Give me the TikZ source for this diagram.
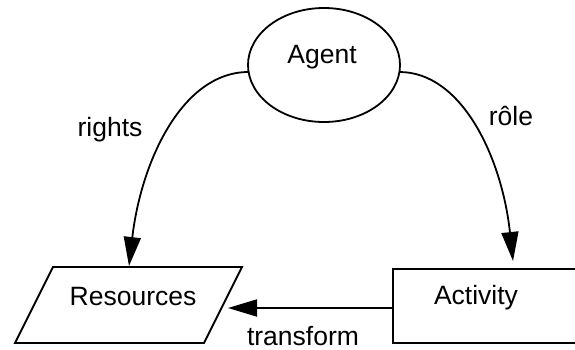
\documentclass[tikz,border=0pt]{standalone}
\usepackage{fontspec}
\setmainfont{Liberation Sans}
\usetikzlibrary{arrows.meta,shapes.geometric}
\begin{document}
\begin{tikzpicture}[x=1pt,y=-1pt, line width=1.8pt,
  lbl/.style={font=\fontsize{26.5}{30}\selectfont, inner sep=0pt, anchor=base},
  tipto/.style={-{Triangle[length=29pt,width=17pt]}}]
\useasboundingbox (0,0) rectangle (575,350);
\clip (0,0) rectangle (575,350);
% Agent
\node[ellipse, draw, minimum width=152pt, minimum height=114pt, inner sep=0pt] (agent) at (324,65) {};
\node[lbl] (agentlbl) at (322,64) {Agent};
% Resources
\coordinate (resTL) at (53,267);
\coordinate (resTR) at (242,267);
\coordinate (resBR) at (204,343);
\coordinate (resBL) at (15,343);
\draw (resTL) -- (resTR) -- (resBR) -- (resBL) -- cycle;
\node[lbl] (reslbl) at (133,305) {Resources};
% Activity
\coordinate (actTL) at (393,269);
\coordinate (actBR) at (600,343);
\draw (actTL) rectangle (actBR);
\node[lbl] (actlbl) at (476,304) {Activity};
% connector anchor points
\coordinate (a1) at (248.6,72);
\coordinate (a2) at (399.4,72);
\coordinate (resTop) at (129,266);
\coordinate (actTop) at (513,261);
\coordinate (actLeft) at (393,308);
\coordinate (resRight) at (228,308);
% connectors
\draw[tipto] (a1) .. controls (182,72) and (141,162) .. (resTop);
\draw[tipto] (a2) .. controls (462,72) and (502,158) .. (actTop);
\draw[tipto] (actLeft) -- (resRight);
% labels
\node[lbl] (rights) at (110,136) {rights};
\node[lbl] (role) at (511,125) {rôle};
\node[lbl] (transform) at (303,345) {transform};
\end{tikzpicture}
\end{document}
